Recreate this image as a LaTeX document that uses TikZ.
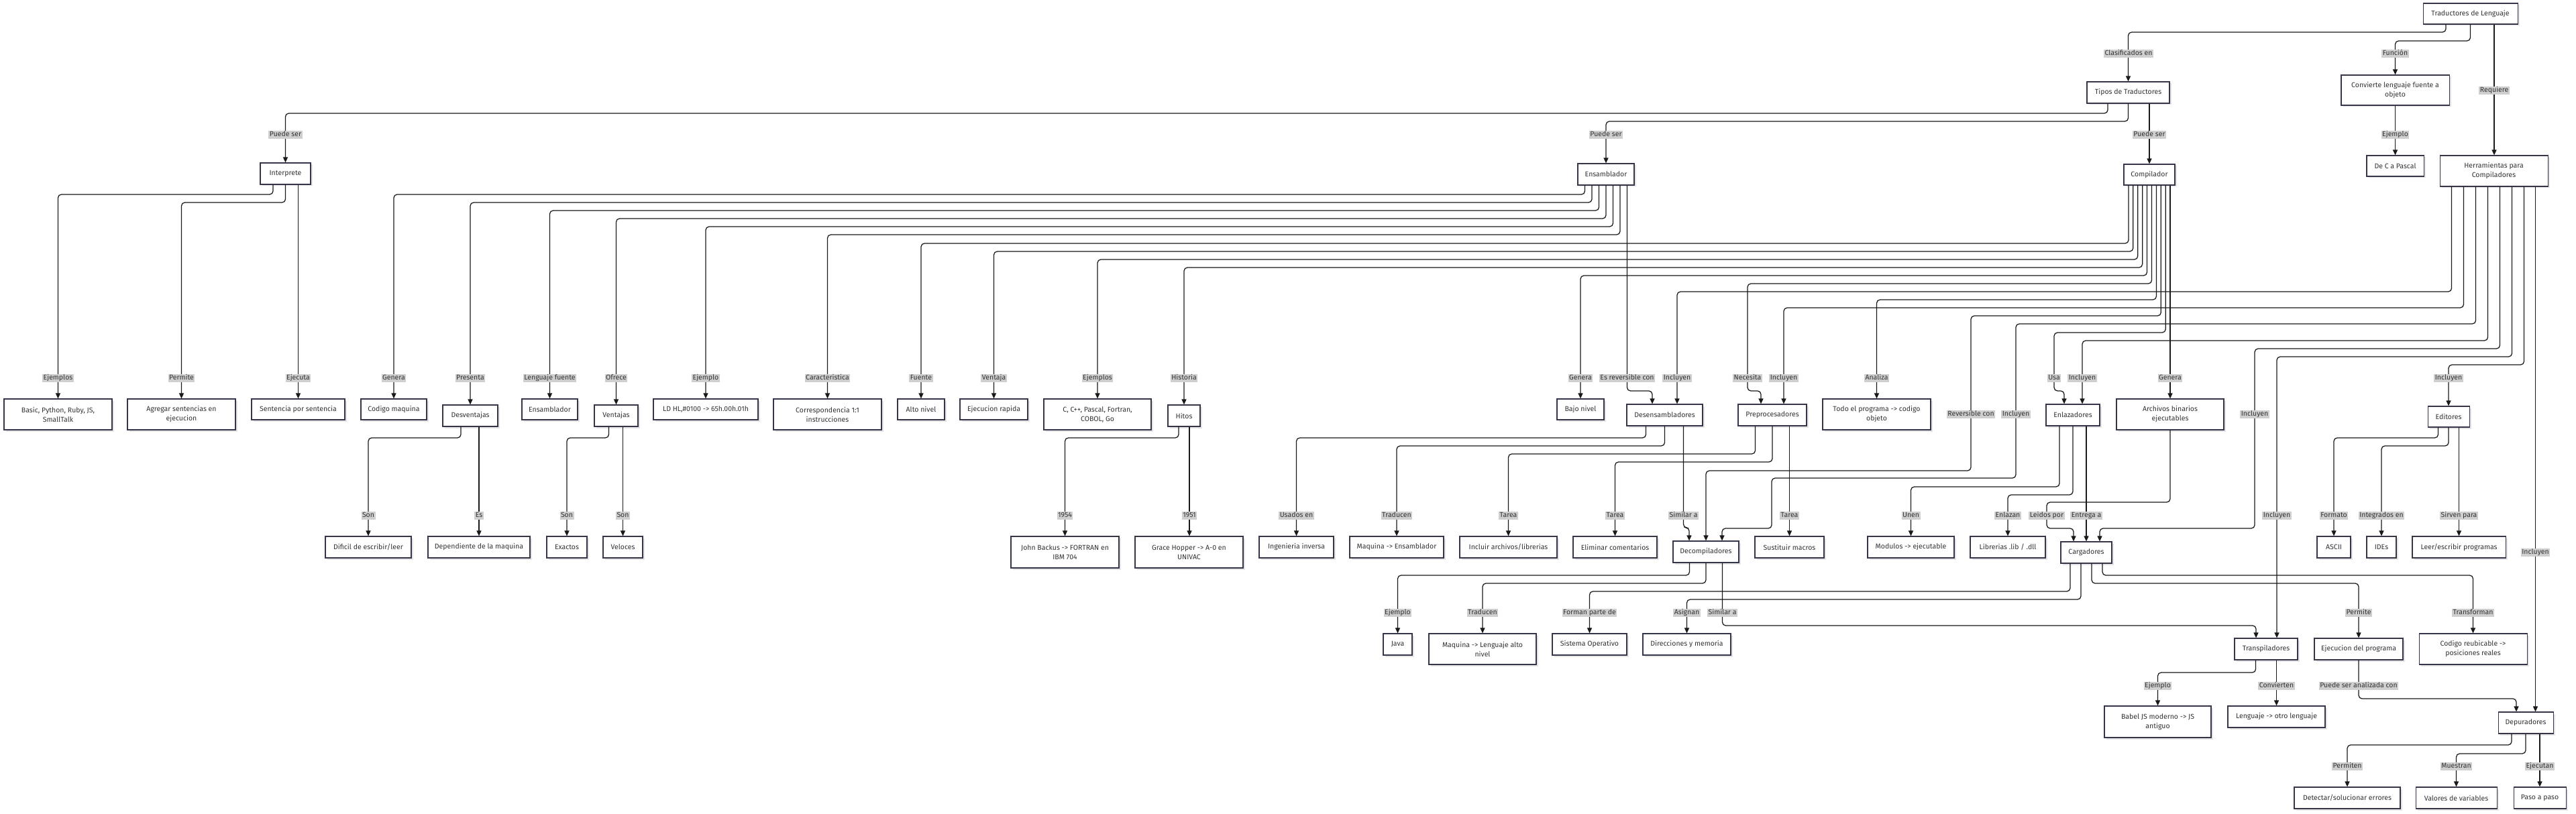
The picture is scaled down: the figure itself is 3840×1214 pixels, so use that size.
\documentclass[tikz,border=0pt]{standalone}
\usepackage{fontspec}
\setmainfont{Fira Sans}
\usetikzlibrary{arrows.meta,shadows}
\definecolor{boxc}{HTML}{35354A}
\definecolor{txtc}{HTML}{333333}
\definecolor{lblc}{HTML}{CFCFCF}
\tikzset{
 box/.style={draw=boxc,line width=1.1pt,fill=white,inner sep=0pt,align=center,text=txtc,
   font=\fontsize{10.5}{14}\selectfont,
   general shadow={fill=black!10,shadow xshift=2.5pt,shadow yshift=-2.5pt}},
 edge/.style={draw=black!90,line width=1.25pt,rounded corners=5pt,-{Triangle[length=8pt,width=7pt]}},
 lbl/.style={fill=lblc,inner xsep=1.5pt,inner ysep=1.2pt,text height=8pt,text depth=2.5pt,
   text=txtc,font=\fontsize{10.5}{12}\selectfont},
}
\newcommand\nb[6]{\node[box,minimum width=#4pt,minimum height=#5pt] (#1) at (#2,#3) {#6};}
\newcommand\edgeA[5]{\draw[edge] ([xshift=#2pt]#1.south) -- ([xshift=#2pt]#1.south |- 0,#3) -| ([xshift=#5pt]#4.north);}
\newcommand\edgeS[3]{\draw[edge] ([xshift=#2pt]#1.south) -- ([xshift=#2pt]#1.south |- #3.north);}
\begin{document}
\begin{tikzpicture}[x=1pt,y=-1pt]
\useasboundingbox (0,0) rectangle (3840,1214);
\fill[white] (0,0) rectangle (3840,1214);
% nodes
\nb{trad}{3682.5}{20.5}{141}{31}{Traductores de Lenguaje}
\nb{tipos}{3172.5}{138}{123}{32}{Tipos de Traductores}
\nb{conv}{3570.5}{134.5}{161}{45}{Convierte lenguaje fuente a\\objeto}
\nb{decp}{3570.5}{247.5}{85}{31}{De C a Pascal}
\nb{herr}{3717.5}{255}{161}{46}{Herramientas para\\Compiladores}
\nb{comp}{3204}{260.5}{76}{31}{Compilador}
\nb{ens}{2394}{260}{84}{32}{Ensamblador}
\nb{interp}{425.5}{259}{75}{32}{Interprete}
\nb{basic}{86.5}{618}{161}{46}{Basic, Python, Ruby, JS,\\SmallTalk}
\nb{agregar}{270.5}{618}{161}{46}{Agregar sentencias en\\ejecucion}
\nb{sent}{444.5}{610.5}{139}{31}{Sentencia por sentencia}
\nb{codm}{587}{610.5}{98}{31}{Codigo maquina}
\nb{desv}{701}{620}{82}{32}{Desventajas}
\nb{ensb}{819.5}{610.5}{83}{31}{Ensamblador}
\nb{vent}{918.5}{620}{65}{32}{Ventajas}
\nb{ld}{1052}{610.5}{156}{31}{LD HL,\#0100 -> 65h.00h.01h}
\nb{corr}{1233.5}{618}{161}{46}{Correspondencia 1:1\\instrucciones}
\nb{alto}{1373}{610.5}{70}{31}{Alto nivel}
\nb{ejr}{1481.5}{610.5}{101}{31}{Ejecucion rapida}
\nb{cpp}{1636}{618}{160}{46}{C, C++, Pascal, Fortran,\\COBOL, Go}
\nb{hitos}{1765}{620}{48}{32}{Hitos}
\nb{bajo}{2356}{610.5}{70}{31}{Bajo nivel}
\nb{desens}{2481.5}{619}{113}{32}{Desensambladores}
\nb{prep}{2642}{619}{102}{32}{Preprocesadores}
\nb{todo}{2797.5}{618}{161}{46}{Todo el programa -> codigo\\objeto}
\nb{enl}{3090}{619}{80}{32}{Enlazadores}
\nb{arch}{3235}{618}{160}{46}{Archivos binarios\\ejecutables}
\nb{edit}{3650}{621.5}{62}{31}{Editores}
\nb{dif}{549}{816}{128}{32}{Dificil de escribir/leer}
\nb{dep}{714}{816}{152}{32}{Dependiente de la maquina}
\nb{exac}{845}{816}{60}{32}{Exactos}
\nb{vel}{928.5}{816}{59}{32}{Veloces}
\nb{john}{1587.5}{823.5}{161}{47}{John Backus -> FORTRAN en\\IBM 704}
\nb{grace}{1772.5}{823.5}{161}{47}{Grace Hopper -> A-0 en\\UNIVAC}
\nb{ing}{1932.5}{816}{111}{32}{Ingenieria inversa}
\nb{maqens}{2082}{816}{140}{32}{Maquina -> Ensamblador}
\nb{incl}{2248.5}{816}{145}{32}{Incluir archivos/librerias}
\nb{elim}{2407.5}{816}{125}{32}{Eliminar comentarios}
\nb{decomp}{2543}{823}{98}{32}{Decompiladores}
\nb{sust}{2667.5}{816}{103}{32}{Sustituir macros}
\nb{mod}{2848.5}{816}{129}{32}{Modulos -> ejecutable}
\nb{lib}{2993}{816}{112}{32}{Librerias .lib / .dll}
\nb{carg}{3110}{824}{76}{32}{Cargadores}
\nb{ascii}{3479}{816}{50}{32}{ASCII}
\nb{ides}{3550}{816}{44}{32}{IDEs}
\nb{leer}{3665.5}{816}{139}{32}{Leer/escribir programas}
\nb{java}{2083.5}{961}{43}{32}{Java}
\nb{maqalto}{2210}{968}{160}{46}{Maquina -> Lenguaje alto\\nivel}
\nb{so}{2369.5}{961}{111}{32}{Sistema Operativo}
\nb{dir}{2514.5}{961}{131}{32}{Direcciones y memoria}
\nb{transp}{3378}{968}{94}{32}{Transpiladores}
\nb{ejprog}{3516}{968}{132}{32}{Ejecucion del programa}
\nb{reub}{3686.5}{968}{161}{46}{Codigo reubicable ->\\posiciones reales}
\nb{babel}{3216.5}{1076.5}{159}{47}{Babel JS moderno -> JS\\antiguo}
\nb{otro}{3393.5}{1069}{145}{32}{Lenguaje -> otro lenguaje}
\nb{depur}{3765}{1078}{82}{32}{Depuradores}
\nb{detect}{3499}{1190}{158}{32}{Detectar/solucionar errores}
\nb{valores}{3661.5}{1190}{121}{32}{Valores de variables}
\nb{paso}{3786}{1190}{78}{32}{Paso a paso}
% edges
\edgeA{trad}{-36.5}{48}{tipos}{0}
\edgeA{trad}{0}{61}{conv}{0}
\edgeS{trad}{35.5}{herr}
\edgeS{conv}{0}{decp}
\edgeA{tipos}{-30.5}{169}{interp}{0}
\edgeA{tipos}{0}{181}{ens}{0}
\edgeS{tipos}{31.5}{comp}
\edgeA{interp}{-18.5}{290}{basic}{0}
\edgeA{interp}{0}{302}{agregar}{0}
\edgeS{interp}{19}{sent}
\edgeA{ens}{-31.5}{290}{codm}{0}
\edgeA{ens}{-21}{302}{desv}{0}
\edgeA{ens}{-10.5}{314}{ensb}{0}
\edgeA{ens}{0}{326}{vent}{0}
\edgeA{ens}{10.5}{338}{ld}{0}
\edgeA{ens}{21}{350}{corr}{0}
\edgeA{ens}{31.5}{583}{desens}{-18.5}
\edgeA{comp}{-31}{363}{alto}{0}
\edgeA{comp}{-24.2}{375}{ejr}{0}
\edgeA{comp}{-17.3}{387}{cpp}{0}
\edgeA{comp}{-10.4}{399}{hitos}{0}
\edgeA{comp}{-3.5}{411}{bajo}{0}
\draw[edge] ([xshift=3.5pt]comp.south) |- (2605,423) -- (2605,583) -| ([xshift=-17pt]prep.north);
\edgeA{comp}{10.4}{447}{todo}{0}
\draw[edge] ([xshift=17.3pt]comp.south) |- (2938,471) -- (2938,702) -| (decomp.north);
\draw[edge] ([xshift=24.2pt]comp.south) |- (3062,496) -- (3062,583) -| ([xshift=-13pt]enl.north);
\edgeS{comp}{31}{arch}
\edgeA{herr}{-63}{435}{desens}{18.5}
\edgeA{herr}{-45}{459}{prep}{17}
\draw[edge] ([xshift=-27pt]herr.south) |- (3005,483) -- (3005,713) -- (2641,713) -- (2641,788) -| ([xshift=24pt]decomp.north);
\edgeA{herr}{-9}{508}{enl}{14}
\draw[edge] ([xshift=9pt]herr.south) |- (3361,520) -- (3361,788) -| ([xshift=20pt]carg.north);
\edgeA{herr}{27}{532}{transp}{16}
\edgeA{herr}{45}{544}{edit}{0}
\edgeS{herr}{62}{depur}
\edgeA{desv}{-14}{653}{dif}{0}
\edgeS{desv}{13}{dep}
\edgeA{vent}{-11}{653}{exac}{0}
\edgeS{vent}{10}{vel}
\edgeA{hitos}{-8}{653}{john}{0}
\edgeS{hitos}{8}{grace}
\edgeA{desens}{-28}{653}{ing}{0}
\edgeA{desens}{0}{665}{maqens}{0}
\edgeA{desens}{28}{787}{decomp}{-25}
\edgeA{prep}{-25.5}{677}{incl}{0}
\edgeA{prep}{0}{689}{elim}{0}
\edgeS{prep}{25.5}{sust}
\edgeA{enl}{-20}{726}{mod}{0}
\edgeA{enl}{0}{738}{lib}{0}
\edgeS{enl}{20}{carg}
\draw[edge] (arch.south) |- (3051,749) -- (3051,788) -| ([xshift=-19pt]carg.north);
\edgeA{edit}{-15.5}{653}{ascii}{0}
\edgeA{edit}{0}{665}{ides}{0}
\edgeS{edit}{15.5}{leer}
\edgeA{decomp}{-24.5}{858}{java}{0}
\edgeA{decomp}{0}{870}{maqalto}{0}
\edgeA{decomp}{24.5}{933}{transp}{-15}
\edgeA{carg}{-24}{882}{so}{0}
\edgeA{carg}{-8}{894}{dir}{0}
\edgeA{carg}{8}{870}{ejprog}{0}
\edgeA{carg}{24}{858}{reub}{0}
\edgeA{transp}{-15.5}{1003}{babel}{0}
\edgeS{transp}{15.5}{otro}
\edgeA{ejprog}{0}{1042}{depur}{-14}
\edgeA{depur}{-21}{1111}{detect}{0}
\edgeA{depur}{0}{1124}{valores}{0}
\edgeS{depur}{21}{paso}
% labels
\foreach \lx/\ly/\lt [count=\i] in {
 3173/80/Clasificados en, 3570.5/80/Función, 3718/135/Requiere, 3570.5/201/Ejemplo,
 425.5/201/Puede ser, 2394/201/Puede ser, 3204/201/Puede ser,
 86.5/564/Ejemplos, 270.5/564/Permite, 444.5/564/Ejecuta,
 587/564/Genera, 701/564/Presenta, 819.5/564/Lenguaje fuente, 918.5/564/Ofrece,
 1052/564/Ejemplo, 1233.5/564/Caracteristica, 2425.5/564/Es reversible con,
 1373/564/Fuente, 1481.5/564/Ventaja, 1636/564/Ejemplos, 1765/564/Historia,
 2356/564/Genera, 2605/564/Necesita, 2797.5/564/Analiza, 2938/618/Reversible con,
 3062/564/Usa, 3235/564/Genera, 2500/564/Incluyen, 2659/564/Incluyen,
 3005/618/Incluyen, 3104/564/Incluyen, 3361/618/Incluyen, 3394/769/Incluyen,
 3650/564/Incluyen, 3779.5/824/Incluyen,
 549/769/Son, 714/769/Es, 845/769/Son, 928.5/769/Son, 1587.5/769/1954, 1773/769/1951,
 1932.5/769/Usados en, 2082/769/Traducen, 2509.5/769/Similar a,
 2248.5/769/Tarea, 2407.5/769/Tarea, 2667.5/769/Tarea,
 2848.5/769/Unen, 2993/769/Enlazan, 3110/769/Entrega a, 3051/769/Leidos por,
 3479/769/Formato, 3550/769/Integrados en, 3665.5/769/Sirven para,
 2083.5/914/Ejemplo, 2210/914/Traducen, 2567.5/914/Similar a,
 2369.5/914/Forman parte de, 2514.5/914/Asignan, 3516/914/Permite, 3686.5/914/Transforman,
 3216.5/1023/Ejemplo, 3393.5/1023/Convierten, 3516/1023/Puede ser analizada con,
 3499/1143/Permiten, 3661.5/1143/Muestran, 3786/1143/Ejecutan}
 { \node[lbl] (lab\i) at (\lx,\ly) {\lt}; }
\end{tikzpicture}
\end{document}
